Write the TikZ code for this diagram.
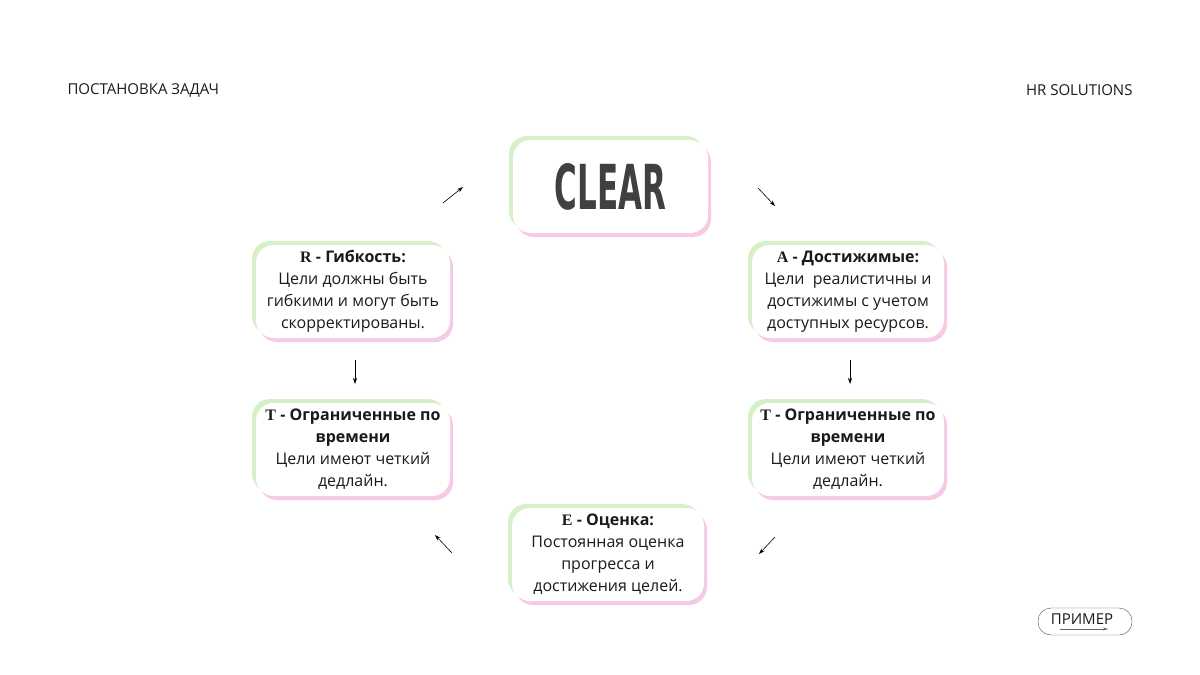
\documentclass[tikz,border=0pt]{standalone}
\usepackage{fontspec}
\usetikzlibrary{arrows.meta}
\setmainfont{Open Sans}
\newfontfamily\serifb{Liberation Serif}
\newfontfamily\condf{DejaVu Sans}
\definecolor{gsh}{HTML}{D6F0CB}
\definecolor{psh}{HTML}{F6C9E4}
\definecolor{txt}{HTML}{1A1A1A}
\begin{document}
\begin{tikzpicture}[x=1pt,y=-1pt,
 lbl/.style={align=center,font=\fontsize{16}{22}\selectfont,text=txt},
 arr/.style={-{Stealth[length=6pt,width=4pt]},semithick}]
\useasboundingbox (0,0) rectangle (1200,675);
\newcommand{\cbox}[5]{%
 \fill[gsh,rounded corners=18] (#1-4,#2-4) rectangle (#3-4,#4-4);
 \fill[psh,rounded corners=18] (#1+3,#2+4) rectangle (#3+3,#4+4);
 \fill[white,rounded corners=18] (#1,#2) rectangle (#3,#4);
 \coordinate (#5) at ({(#1+#3)/2},{(#2+#4)/2});}
\cbox{513}{140}{708}{233}{cl}
\cbox{256}{245}{450}{338}{r}
\cbox{752}{245}{944}{338}{a}
\cbox{256}{403}{450}{496}{tl}
\cbox{752}{403}{944}{496}{tr}
\cbox{512}{508}{704}{601}{e}
\node[font=\condf\bfseries\fontsize{62}{62}\selectfont,text=black!75,xscale=0.5] at (cl) {CLEAR};
\node[lbl] at (r) {{\serifb\bfseries R} \textbf{- Гибкость:}\\Цели должны быть\\гибкими и могут быть\\скорректированы.};
\node[lbl] at (a) {{\serifb\bfseries A} \textbf{- Достижимые:}\\Цели\ \ реалистичны и\\достижимы с учетом\\доступных ресурсов.};
\node[lbl] at (tl) {{\serifb\bfseries T} \textbf{- Ограниченные по}\\\textbf{времени}\\Цели имеют четкий\\дедлайн.};
\node[lbl] at (tr) {{\serifb\bfseries T} \textbf{- Ограниченные по}\\\textbf{времени}\\Цели имеют четкий\\дедлайн.};
\node[lbl] at (e) {{\serifb\bfseries E} \textbf{- Оценка:}\\Постоянная оценка\\прогресса и\\достижения целей.};
\draw[arr] (443,203) -- (463,187);
\draw[arr] (758,188) -- (775,206);
\draw[arr] (355,360) -- (355,384);
\draw[arr] (850,360) -- (850,384);
\draw[arr] (775,537) -- (759,554);
\draw[arr] (452,553) -- (435,535);
\node[anchor=west,font=\fontsize{15}{15}\selectfont,text=txt] (h1) at (64,90) {ПОСТАНОВКА ЗАДАЧ};
\node[anchor=east,font=\fontsize{15}{15}\selectfont,text=txt] (h2) at (1136,90) {HR SOLUTIONS};
\draw[black!70,rounded corners=13] (1038,608) rectangle (1132,635);
\node[font=\fontsize{15}{15}\selectfont,text=txt] (pr) at (1082,619) {ПРИМЕР};
\draw[-{Stealth[length=5pt,width=3pt]},black!60,thin] (1060,629) -- (1108,629);
\end{tikzpicture}
\end{document}
